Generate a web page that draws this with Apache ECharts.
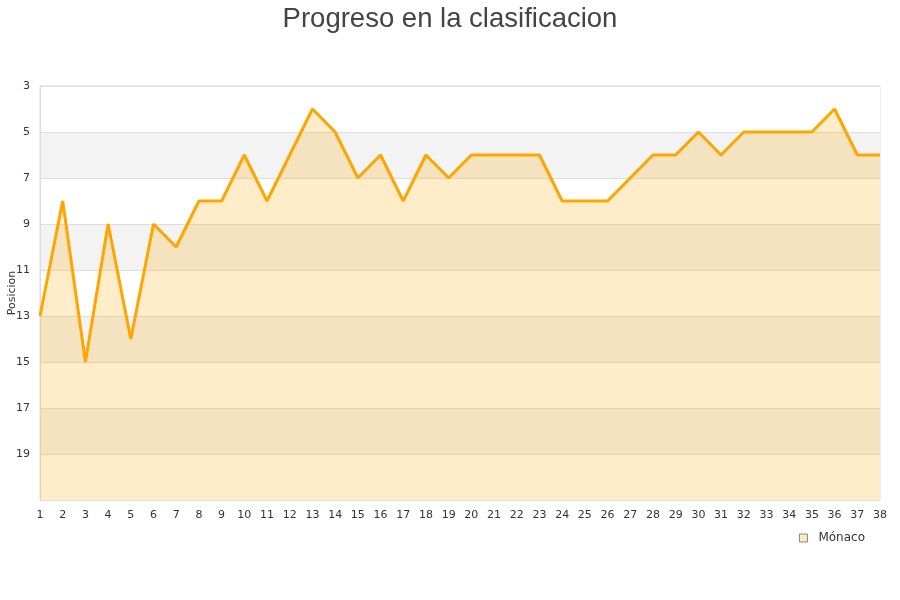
<!DOCTYPE html>
<html><head><meta charset="utf-8">
<script src="https://cdn.jsdelivr.net/npm/echarts@6/dist/echarts.min.js"></script>
<style>html,body{margin:0;padding:0;background:#fff}#c{width:900px;height:600px}</style>
</head><body><div id="c"></div>
<script>
const jornadas = ['1','2','3','4','5','6','7','8','9','10','11','12','13','14','15','16','17','18','19','20','21','22','23','24','25','26','27','28','29','30','31','32','33','34','35','36','37','38'];
const posiciones = [13,8,15,9,14,9,10,8,8,6,8,6,4,5,7,6,8,6,7,6,6,6,6,8,8,8,7,6,6,5,6,5,5,5,5,4,6,6];
const seriesName = 'Mónaco';
const titleText = 'Progreso en la clasificacion';
const yName = 'Posicion';

const chart = echarts.init(document.getElementById('c'));
chart.setOption({
  animation: false,
  title: { text: titleText, left: 'center', top: 0,
    textStyle: { fontFamily: 'Liberation Sans, Arial, sans-serif', fontSize: 27.5, fontWeight: 'normal', color: '#444' } },
  legend: { data: [seriesName], right: 30, top: 527, itemWidth: 8, itemHeight: 8, icon: 'rect',
    textStyle: { fontFamily: 'DejaVu Sans, sans-serif', fontSize: 12, color: '#333', padding: [0, 0, 0, 6] },
    itemStyle: { color: '#fde9c4', borderColor: '#888', borderWidth: 1 } },
  grid: { left: 40, right: 20, top: 86, bottom: 100, show: true, borderColor: '#ddd', borderWidth: 1,
    containLabel: false, outerBoundsMode: 'none' },
  xAxis: { type: 'category', data: jornadas, boundaryGap: false,
    axisLine: { show: false }, axisTick: { show: false },
    axisLabel: { color: '#333', fontSize: 11, fontFamily: 'DejaVu Sans, sans-serif', margin: 10, interval: 0 },
    splitLine: { show: false } },
  yAxis: { type: 'value', inverse: true, min: 3, max: 21, interval: 2,
    name: yName, nameLocation: 'middle', nameGap: 22, nameMoveOverlap: false,
    nameTextStyle: { color: '#333', fontSize: 11, fontFamily: 'DejaVu Sans, sans-serif' },
    axisLine: { show: true, lineStyle: { color: '#ddd' } }, axisTick: { show: false },
    axisLabel: { color: '#333', fontSize: 11, fontFamily: 'DejaVu Sans, sans-serif', margin: 10,
      formatter: v => v === 21 ? '' : String(v) },
    splitLine: { show: true, lineStyle: { color: '#ddd' } },
    splitArea: { show: true, areaStyle: { color: ['#ffffff', '#f3f3f3'] } } },
  series: [{ name: seriesName, type: 'line', data: posiciones, symbol: 'none',
    lineStyle: { color: '#ffa500', width: 3 },
    itemStyle: { color: '#ffa500' },
    areaStyle: { color: 'rgba(255,165,0,0.21)', opacity: 1, origin: 'end' } }]
});
</script></body></html>
